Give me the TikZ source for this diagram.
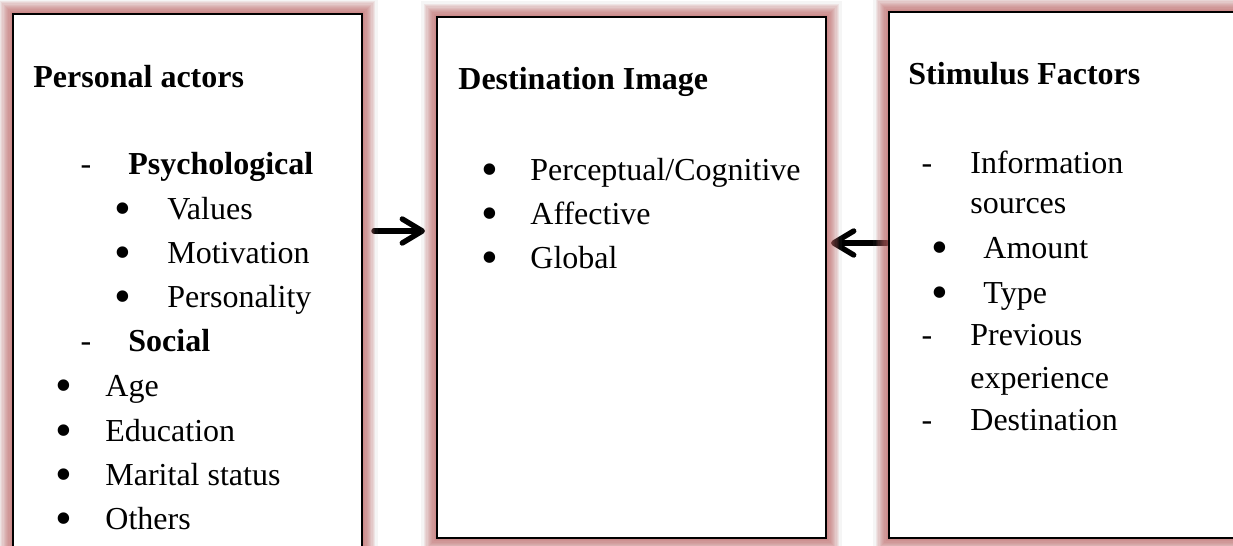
\documentclass[tikz,border=0pt]{standalone}
\usepackage{fontspec}
\setmainfont{Liberation Serif}
\usetikzlibrary{arrows.meta,fit,backgrounds}
\definecolor{glowred}{RGB}{190,96,96}
\tikzset{
  plainbox/.style={draw=black, line width=1pt, fill=white, inner sep=0pt},
  txt/.style={anchor=base west, inner sep=0pt, font=\fontsize{16pt}{19pt}\selectfont},
  head/.style={txt, font=\fontsize{16pt}{19pt}\selectfont\bfseries},
  hyph/.style={anchor=base, inner sep=0pt, font=\fontsize{16pt}{19pt}\selectfont},
  bul/.style={anchor=base, inner sep=0pt, yshift=-2.5pt, font=\fontsize{24pt}{28pt}\selectfont},
  arr/.style={line width=2.7pt, line cap=round, -{Straight Barb[length=10pt,width=12pt,round]}}
}
\begin{document}
\begin{tikzpicture}[x=0.5pt, y=-0.5pt]
\useasboundingbox (0,0) rectangle (1233,546);
\clip (0,0) rectangle (1233,546);
\node[plainbox, fit={(13,14) (362,560)}] (pers) {};
\node[plainbox, fit={(437,17) (826,538)}] (dest) {};
\node[plainbox, fit={(889,12) (1250,538)}] (stim) {};
\begin{pgfonlayer}{background}
\fill[white] (0,0) rectangle (1233,546);
\draw[arr, shorten <=5.5pt, shorten >=5.5pt] (pers.east |- 0,231) -- (dest.west |- 0,231);
\draw[arr, shorten <=0.5pt, shorten >=2pt] (stim.west |- 0,243) -- (dest.east |- 0,243);
% glow round the boxes
\foreach \n in {pers,dest,stim}{
	\draw[black!50, line width=15pt, opacity=0.08] (\n.north west) rectangle (\n.south east);
	\foreach \w in {1,...,10}
		\draw[glowred, line width=\w*1.2pt, opacity=0.11] (\n.north west) rectangle (\n.south east);}
\end{pgfonlayer}

% personal actors
\node[head] (pa) at (33,87) {Personal actors};
\foreach \y/\t [count=\i] in {174/Psychological, 351/Social}{
	\node[hyph] (pad\i) at (86,\y) {-};
	\node[head] (pah\i) at (128,\y) {\t};}
\foreach \y/\t [count=\i] in {219/Values, 263/Motivation, 307/Personality}{
	\node[bul] (pab\i) at (123,\y) {•};
	\node[txt] (pat\i) at (167,\y) {\t};}
\foreach \y/\t [count=\i] in {396/Age, 441/Education, 485/Marital status, 529/Others}{
	\node[bul] (psb\i) at (64,\y) {•};
	\node[txt] (pst\i) at (105,\y) {\t};}

% destination image
\node[head] (di) at (458,90) {Destination Image};
\foreach \y/\t [count=\i] in {180/{Perceptual/Cognitive}, 224/Affective, 268/Global}{
	\node[bul] (dib\i) at (490,\y) {•};
	\node[txt] (dit\i) at (530,\y) {\t};}

% stimulus factors
\node[head] (sf) at (908,84) {Stimulus Factors};
\foreach \y/\t [count=\i] in {173/Information, 345/Previous, 430/Destination}{
	\node[hyph] (sfd\i) at (927,\y) {-};
	\node[txt] (sfh\i) at (970,\y) {\t};}
\foreach \y/\t [count=\i] in {213/sources, 388/experience}
	\node[txt] (sfc\i) at (970,\y) {\t};
\foreach \y/\t [count=\i] in {258/Amount, 303/Type}{
	\node[bul] (sfb\i) at (940,\y) {•};
	\node[txt] (sft\i) at (983,\y) {\t};}
\end{tikzpicture}
\end{document}
